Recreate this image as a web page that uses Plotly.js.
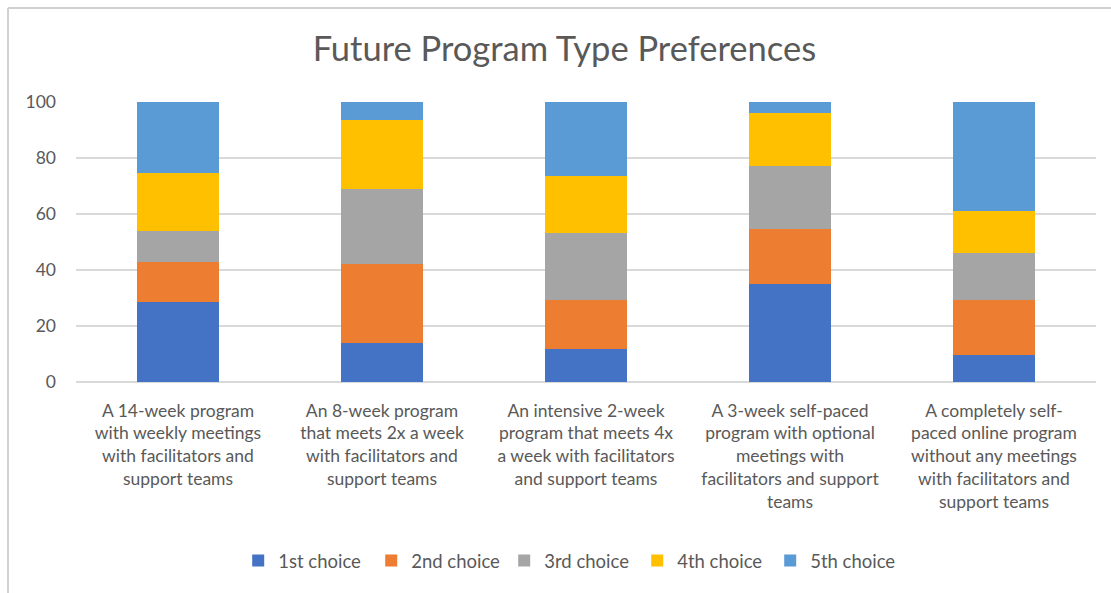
<!DOCTYPE html>
<html>
<head>
<meta charset="utf-8">
<script src="https://cdn.plot.ly/plotly-3.0.1.min.js"></script>
<style>
  html, body { margin: 0; padding: 0; background: #fff; }
  #chart { width: 1111px; height: 593px; }
</style>
</head>
<body>
<div id="chart"></div>
<script>
const categories = [
  "A 14-week program with weekly meetings with facilitators and support teams",
  "An 8-week program that meets 2x a week with facilitators and support teams",
  "An intensive 2-week program that meets 4x a week with facilitators and support teams",
  "A 3-week self-paced program with optional meetings with facilitators and support teams",
  "A completely self-paced online program without any meetings with facilitators and support teams"
];
const tickLabels = [
  "A 14-week program<br>with weekly meetings<br>with facilitators and<br>support teams",
  "An 8-week program<br>that meets 2x a week<br>with facilitators and<br>support teams",
  "An intensive 2-week<br>program that meets 4x<br>a week with facilitators<br>and support teams",
  "A 3-week self-paced<br>program with optional<br>meetings with<br>facilitators and support<br>teams",
  "A completely self-<br>paced online program<br>without any meetings<br>with facilitators and<br>support teams"
];
const seriesNames = ["1st choice", "2nd choice", "3rd choice", "4th choice", "5th choice"];
const choice1 = [28.6, 14.1, 11.7, 34.9, 9.5];
const choice2 = [14.3, 27.9, 17.7, 19.9, 19.9];
const choice3 = [10.9, 27.1, 23.7, 22.3, 16.5];
const choice4 = [20.7, 24.5, 20.6, 19.1, 15.2];
const choice5 = [25.5, 6.4, 26.3, 3.8, 38.9];
const colors = ["#4472C4", "#ED7D31", "#A5A5A5", "#FFC000", "#5B9BD5"];
const yTicks = [0, 20, 40, 60, 80, 100];

const allSeries = [choice1, choice2, choice3, choice4, choice5];
const traces = allSeries.map((vals, i) => ({
  type: "bar",
  name: seriesNames[i],
  x: categories,
  y: vals,
  marker: { color: colors[i], line: { width: 0 } },
  hoverinfo: "y+name"
}));

const font = "Lato, 'Open Sans', sans-serif";
const layout = {
  width: 1111,
  height: 593,
  barmode: "stack",
  bargap: 0.6,
  paper_bgcolor: "#ffffff",
  plot_bgcolor: "#ffffff",
  margin: { l: 76, r: 15, t: 102, b: 211 },
  font: { family: font, color: "#595959", size: 16 },
  title: {
    text: "Future Program Type Preferences",
    font: { family: font, size: 34.5, color: "#595959" },
    x: 0.508, xref: "container", xanchor: "center",
    y: 0.918, yref: "container", yanchor: "middle"
  },
  xaxis: {
    type: "category",
    tickmode: "array",
    tickvals: categories,
    ticktext: tickLabels,
    showgrid: false,
    showline: false,
    zeroline: false,
    ticks: "",
    tickangle: 0,
    ticklabelstandoff: 16,
    tickfont: { family: font, size: 17.5, color: "#595959" }
  },
  yaxis: {
    range: [0, 100],
    tickmode: "array",
    tickvals: yTicks,
    showgrid: true,
    gridcolor: "#d9d9d9",
    gridwidth: 1.5,
    zeroline: true,
    zerolinecolor: "#d9d9d9",
    zerolinewidth: 1.5,
    showline: false,
    ticks: "",
    ticklabelstandoff: 19,
    tickfont: { family: font, size: 17.5, color: "#595959" }
  },
  legend: {
    orientation: "h",
    x: 0.485, xanchor: "center",
    y: (382 - 561) / 280, yanchor: "middle",
    font: { family: font, size: 18.5, color: "#595959" },
    traceorder: "normal",
    entrywidth: 88,
    itemclick: false
  },
  shapes: [
    { type: "line", xref: "paper", yref: "paper",
      x0: (8 - 76) / 1020, x1: (8 - 76) / 1020, y0: (382 - 8) / 280, y1: (382 - 600) / 280,
      line: { color: "#d0d0d0", width: 2 } },
    { type: "line", xref: "paper", yref: "paper",
      x0: (8 - 76) / 1020, x1: (1120 - 76) / 1020, y0: (382 - 8) / 280, y1: (382 - 8) / 280,
      line: { color: "#d0d0d0", width: 2 } }
  ],
  showlegend: true
};

Plotly.newPlot("chart", traces, layout, { displayModeBar: false, staticPlot: true });
</script>
</body>
</html>
